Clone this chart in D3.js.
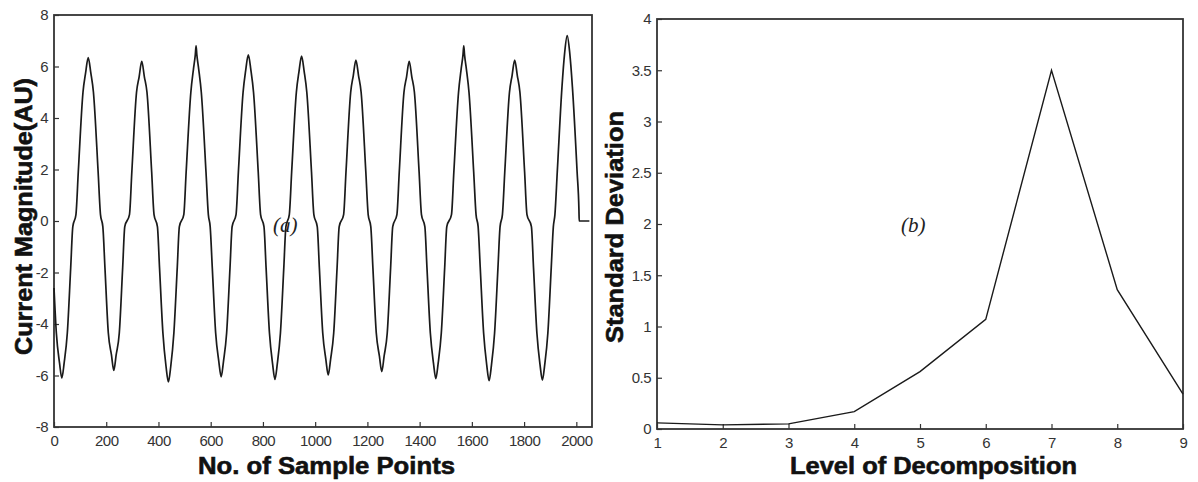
<!DOCTYPE html>
<html>
<head>
<meta charset="utf-8">
<script src="https://cdn.jsdelivr.net/npm/d3@7"></script>
<style>
  body { margin: 0; background: #fff; }
  svg { display: block; }
  .tick text { font-family: "Liberation Sans", Arial, sans-serif; font-size: 15px; fill: #333; letter-spacing: -0.5px; }
  .tick line { stroke: #333; stroke-width: 1.2; }
  .lbl { font-family: "Liberation Sans", Arial, sans-serif; font-weight: bold; fill: #111; stroke: #111; stroke-width: 0.6; }
  .tag { font-family: "Liberation Serif", "Times New Roman", serif; font-style: italic; font-size: 21px; fill: #222; }
</style>
</head>
<body>
<div id="chart"></div>
<script>
// (a) current waveform: [sample, magnitude]
const current = [
    [0, -2.6], [9, -4.35], [21, -5.5], [30, -6.1],
    [39, -5.5], [51, -4.35], [64, -1.8], [72, -0.22], [84, 0.25], [93, 1.9], [111, 5.0], [121, 5.75], [131, 6.35],
    [141, 5.75], [151, 5.0], [169, 1.9], [178, 0.25], [187, -0.22], [195, -1.8], [208, -4.35], [220, -5.2], [229, -5.8],
    [238, -5.2], [250, -4.35], [263, -1.8], [271, -0.22], [289, 0.25], [298, 1.9], [316, 5.0], [326, 5.6], [336, 6.2],
    [346, 5.6], [356, 5.0], [374, 1.9], [383, 0.25], [396, -0.22], [404, -1.8], [417, -4.35], [429, -5.65], [438, -6.25],
    [447, -5.65], [459, -4.35], [472, -1.8], [480, -0.22], [497, 0.25], [506, 1.9], [524, 5.0], [534, 5.9], [541, 6.45], [544, 6.8], [547, 6.45],
    [554, 5.9], [564, 5.0], [582, 1.9], [591, 0.25], [598, -0.22], [606, -1.8], [619, -4.35], [631, -5.45], [640, -6.05],
    [649, -5.45], [661, -4.35], [674, -1.8], [682, -0.22], [697, 0.25], [706, 1.9], [724, 5.0], [734, 5.85], [744, 6.45],
    [754, 5.85], [764, 5.0], [782, 1.9], [791, 0.25], [804, -0.22], [812, -1.8], [825, -4.35], [837, -5.55], [846, -6.15],
    [855, -5.55], [867, -4.35], [880, -1.8], [888, -0.22], [901, 0.25], [910, 1.9], [928, 5.0], [938, 5.8], [948, 6.4],
    [958, 5.8], [968, 5.0], [986, 1.9], [995, 0.25], [1008, -0.22], [1016, -1.8], [1029, -4.35], [1041, -5.38], [1050, -5.98],
    [1059, -5.38], [1071, -4.35], [1084, -1.8], [1092, -0.22], [1109, 0.25], [1118, 1.9], [1136, 5.0], [1146, 5.65], [1156, 6.25],
    [1166, 5.65], [1176, 5.0], [1194, 1.9], [1203, 0.25], [1213, -0.22], [1221, -1.8], [1234, -4.35], [1246, -5.25], [1255, -5.85],
    [1264, -5.25], [1276, -4.35], [1289, -1.8], [1297, -0.22], [1313, 0.25], [1322, 1.9], [1340, 5.0], [1350, 5.6], [1360, 6.2],
    [1370, 5.6], [1380, 5.0], [1398, 1.9], [1407, 0.25], [1420, -0.22], [1428, -1.8], [1441, -4.35], [1453, -5.52], [1462, -6.12],
    [1471, -5.52], [1483, -4.35], [1496, -1.8], [1504, -0.22], [1522, 0.25], [1531, 1.9], [1549, 5.0], [1559, 5.9], [1566, 6.45], [1569, 6.8], [1572, 6.45],
    [1579, 5.9], [1589, 5.0], [1607, 1.9], [1616, 0.25], [1624, -0.22], [1632, -1.8], [1645, -4.35], [1657, -5.6], [1666, -6.2],
    [1675, -5.6], [1687, -4.35], [1700, -1.8], [1708, -0.22], [1717, 0.25], [1726, 1.9], [1744, 5.0], [1754, 5.65], [1764, 6.25],
    [1774, 5.65], [1784, 5.0], [1802, 1.9], [1811, 0.25], [1828, -0.22], [1836, -1.8], [1849, -4.35], [1861, -5.58], [1870, -6.18],
    [1879, -5.58], [1891, -4.35], [1904, -1.8], [1912, -0.22], [1918, 0.25], [1927, 1.9], [1945, 5.2], [1955, 6.5], [1965, 7.2],
    [1975, 6.5], [1985, 5.2], [2003, 1.9], [2010, 0.43], [2011, 0], [2050, 0]
];
const xTicksA = [0, 200, 400, 600, 800, 1000, 1200, 1400, 1600, 1800, 2000];
const yTicksA = [-8, -6, -4, -2, 0, 2, 4, 6, 8];

// (b) standard deviation per decomposition level
const levels = [1, 2, 3, 4, 5, 6, 7, 8, 9];
const stdDev = [0.06, 0.04, 0.05, 0.17, 0.56, 1.07, 3.5, 1.36, 0.34];
const yTicksB = [0, 0.5, 1, 1.5, 2, 2.5, 3, 3.5, 4];

const svg = d3.select("#chart").append("svg")
    .attr("width", 1198)
    .attr("height", 482);

function panel(box, xDomain, yDomain, xTicks, yTicks) {
    const x = d3.scaleLinear().domain(xDomain).range([box.left, box.right]);
    const y = d3.scaleLinear().domain(yDomain).range([box.bottom, box.top]);

    svg.append("g")
        .attr("transform", `translate(0,${box.bottom})`)
        .call(d3.axisBottom(x).tickValues(xTicks).tickSizeInner(-5).tickSizeOuter(0).tickPadding(8).tickFormat(d => d))
        .call(g => g.select(".domain").remove());

    svg.append("g")
        .attr("transform", `translate(${box.left},0)`)
        .call(d3.axisLeft(y).tickValues(yTicks).tickSizeInner(-5).tickSizeOuter(0).tickPadding(6).tickFormat(d => d))
        .call(g => g.select(".domain").remove());

    svg.append("rect")
        .attr("x", box.left)
        .attr("y", box.top)
        .attr("width", box.right - box.left)
        .attr("height", box.bottom - box.top)
        .attr("fill", "none")
        .attr("stroke", "#333")
        .attr("stroke-width", 1.8);

    return { x, y };
}

// left panel
const a = panel({ left: 54, right: 592, top: 15, bottom: 427 }, [0, 2060], [-8, 8], xTicksA, yTicksA);

svg.append("path")
    .datum(current)
    .attr("fill", "none")
    .attr("stroke", "#1a1a1a")
    .attr("stroke-width", 1.7)
    .attr("d", d3.line().x(d => a.x(d[0])).y(d => a.y(d[1])).curve(d3.curveMonotoneX));

svg.append("text").attr("class", "tag").attr("x", 273).attr("y", 232).text("(a)");

svg.append("text").attr("class", "lbl")
    .attr("x", 198).attr("y", 474)
    .attr("font-size", 24)
    .attr("textLength", 257)
    .attr("lengthAdjust", "spacingAndGlyphs")
    .text("No. of Sample Points");

svg.append("text").attr("class", "lbl")
    .attr("transform", "translate(32,355) rotate(-90)")
    .attr("font-size", 23)
    .attr("textLength", 277)
    .attr("lengthAdjust", "spacingAndGlyphs")
    .text("Current Magnitude(AU)");

// right panel
const b = panel({ left: 657, right: 1183, top: 19, bottom: 429 }, [1, 9], [0, 4], levels, yTicksB);

svg.append("path")
    .datum(levels.map((l, i) => [l, stdDev[i]]))
    .attr("fill", "none")
    .attr("stroke", "#1a1a1a")
    .attr("stroke-width", 1.4)
    .attr("d", d3.line().x(d => b.x(d[0])).y(d => b.y(d[1])));

svg.append("text").attr("class", "tag").attr("x", 901).attr("y", 232).text("(b)");

svg.append("text").attr("class", "lbl")
    .attr("x", 790).attr("y", 474)
    .attr("font-size", 24)
    .attr("textLength", 287)
    .attr("lengthAdjust", "spacingAndGlyphs")
    .text("Level of Decomposition");

svg.append("text").attr("class", "lbl")
    .attr("transform", "translate(623,343) rotate(-90)")
    .attr("font-size", 23)
    .attr("textLength", 232)
    .attr("lengthAdjust", "spacingAndGlyphs")
    .text("Standard Deviation");
</script>
</body>
</html>
